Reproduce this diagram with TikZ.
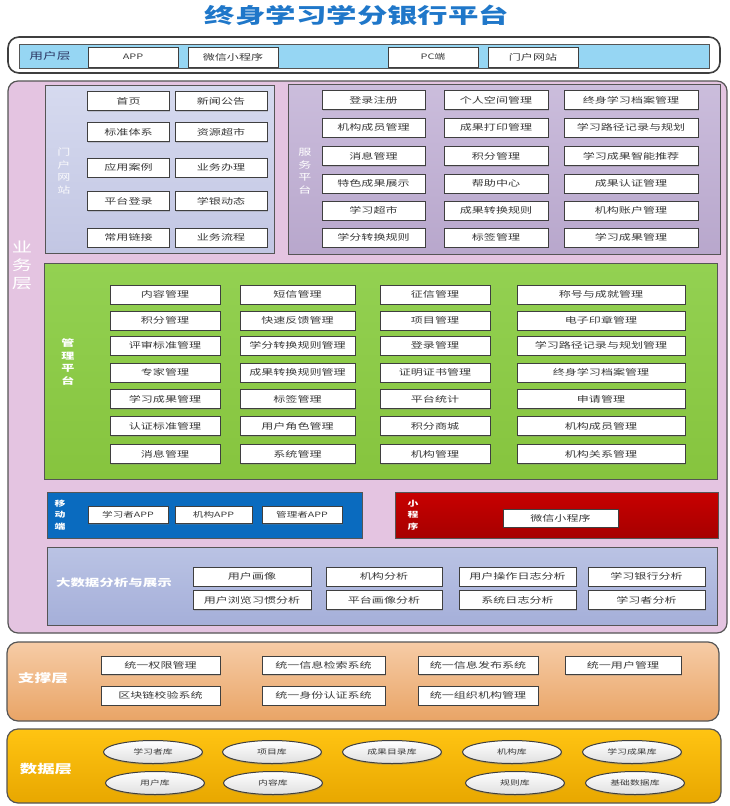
\documentclass[tikz,border=0pt]{standalone}
\usepackage{fontspec}
\newfontfamily\cjk{Noto Sans CJK SC}[FakeStretch=1.45]
\usetikzlibrary{shadows,shapes.geometric}
\definecolor{titleblue}{HTML}{1F77C9}
\definecolor{boxline}{HTML}{3F3F3F}
\definecolor{boxtext}{HTML}{3A3A3A}
\definecolor{panelline}{HTML}{555555}
\definecolor{userbar}{HTML}{96D6F3}
\definecolor{bizpink}{HTML}{E4C4E1}
\definecolor{portalA}{HTML}{D6DAEF}
\definecolor{portalB}{HTML}{C2C6E3}
\definecolor{servA}{HTML}{CBBDDC}
\definecolor{servB}{HTML}{B8A7CC}
\definecolor{mgmtA}{HTML}{93D152}
\definecolor{mgmtB}{HTML}{86C43E}
\definecolor{mobblue}{HTML}{0A6BBF}
\definecolor{miniA}{HTML}{C80000}
\definecolor{miniB}{HTML}{A60000}
\definecolor{bigA}{HTML}{BAC3E4}
\definecolor{bigB}{HTML}{A5AFD9}
\definecolor{supA}{HTML}{F6CCA6}
\definecolor{supB}{HTML}{E9A466}
\definecolor{dataA}{HTML}{FFC412}
\definecolor{dataB}{HTML}{E8A700}
\definecolor{userlbl}{HTML}{2E3A66}
\begin{document}
\begin{tikzpicture}[x=1pt,y=-1pt,
  box/.style={draw=boxline, line width=0.9pt, fill=white, inner sep=0pt, text=boxtext,
    font=\cjk\fontsize{8.3}{10}\selectfont, minimum height=19pt,
    drop shadow={shadow xshift=0.8pt, shadow yshift=-1.3pt, opacity=0.3}},
  panel/.style={draw=panelline, line width=1pt, inner sep=0pt},
  vlabel/.style={text=white, align=center, inner sep=0pt, font=\cjk\fontsize{9}{12.5}\selectfont},
  hlabel/.style={text=white, inner sep=0pt, font=\cjk\bfseries\fontsize{11}{13}\selectfont},
  dbell/.style={ellipse, draw=boxline, line width=1pt, top color=white, bottom color=gray!25,
    minimum width=99pt, minimum height=23pt, inner sep=0pt, text=boxtext,
    font=\cjk\fontsize{6.8}{8}\selectfont,
    drop shadow={shadow xshift=0.8pt, shadow yshift=-1.5pt, opacity=0.35}}
]
\useasboundingbox (0,0) rectangle (730,806);

% title
\node[text=titleblue, font=\cjk\bfseries\fontsize{21}{24}\selectfont] (title) at (357,15) {终身学习学分银行平台};

% user layer
\node[panel, draw=boxline, line width=1.6pt, fill=white, rounded corners=11pt,
  minimum width=712pt, minimum height=36pt] (userOuter) at (364,55) {};
\node[panel, line width=0.8pt, fill=userbar, minimum width=690pt, minimum height=24pt] (userBar) at (364,56) {};
\node[text=userlbl, font=\cjk\fontsize{9.5}{11}\selectfont, inner sep=0pt] (userLbl) at (50,56) {用户层};
\node[box, minimum width=90pt, minimum height=20pt, font=\cjk\fontsize{7.5}{9}\selectfont] (uApp) at (133,57) {APP};
\node[box, minimum width=90pt, minimum height=20pt] (uWx) at (233,57) {微信小程序};
\node[box, minimum width=90pt, minimum height=20pt, font=\cjk\fontsize{7.5}{9}\selectfont] (uPc) at (433,57) {PC端};
\node[box, minimum width=90pt, minimum height=20pt] (uWeb) at (533,57) {门户网站};

% business layer
\node[panel, line width=1.2pt, fill=bizpink, rounded corners=10pt,
  minimum width=719pt, minimum height=552pt] (biz) at (367.5,357) {};
\node[vlabel, font=\cjk\fontsize{14}{18}\selectfont] (bizLbl) at (22,265) {业\\务\\层};

% portal panel
\node[panel, top color=portalA, bottom color=portalB, minimum width=229pt, minimum height=168pt] (portal) at (159.5,169) {};
\node[vlabel, text=white!90!portalB] (portalLbl) at (64,171) {门\\户\\网\\站};
\foreach \y/\a/\b [count=\i] in {101/首页/新闻公告, 132/标准体系/资源超市, 167.5/应用案例/业务办理, 201/平台登录/学银动态, 237.5/常用链接/业务流程}{
  \node[box, minimum width=82pt] (pa\i) at (128.5,\y) {\a};
  \node[box, minimum width=92pt] (pb\i) at (221,\y) {\b};
}

% service panel
\node[panel, top color=servA, bottom color=servB, minimum width=432pt, minimum height=170pt] (serv) at (504,169) {};
\node[vlabel] (servLbl) at (305,171) {服\\务\\平\\台};
\foreach \y/\a/\b/\c [count=\i] in {100/登录注册/个人空间管理/终身学习档案管理,
  127.5/机构成员管理/成果打印管理/学习路径记录与规划,
  156/消息管理/积分管理/学习成果智能推荐,
  183.5/特色成果展示/帮助中心/成果认证管理,
  210.5/学习超市/成果转换规则/机构账户管理,
  237.5/学分转换规则/标签管理/学习成果管理}{
  \node[box, minimum width=103pt] (sa\i) at (373.5,\y) {\a};
  \node[box, minimum width=104pt] (sb\i) at (496,\y) {\b};
  \node[box, minimum width=134pt] (sc\i) at (631,\y) {\c};
}

% management panel
\node[panel, top color=mgmtA, bottom color=mgmtB, minimum width=673pt, minimum height=216pt] (mgmt) at (380.5,371) {};
\node[vlabel, font=\cjk\bfseries\fontsize{9}{12.5}\selectfont] (mgmtLbl) at (68,362) {管\\理\\平\\台};
\foreach \y/\a/\b/\c/\d [count=\i] in {294.5/内容管理/短信管理/征信管理/称号与成就管理,
  320.5/积分管理/快速反馈管理/项目管理/电子印章管理,
  345.5/评审标准管理/学分转换规则管理/登录管理/学习路径记录与规划管理,
  372.5/专家管理/成果转换规则管理/证明证书管理/终身学习档案管理,
  399/学习成果管理/标签管理/平台统计/申请管理,
  426/认证标准管理/用户角色管理/积分商城/机构成员管理,
  454/消息管理/系统管理/机构管理/机构关系管理}{
  \node[box, minimum width=110pt] (ma\i) at (165,\y) {\a};
  \node[box, minimum width=115pt] (mb\i) at (297.5,\y) {\b};
  \node[box, minimum width=110pt] (mc\i) at (435,\y) {\c};
  \node[box, minimum width=168pt] (md\i) at (601,\y) {\d};
}

% mobile panel
\node[panel, fill=mobblue, minimum width=315pt, minimum height=46pt] (mob) at (204.5,515) {};
\node[vlabel, font=\cjk\bfseries\fontsize{7.5}{11.5}\selectfont] (mobLbl) at (60,515) {移\\动\\端};
\node[box, minimum width=80pt, minimum height=17pt, font=\cjk\fontsize{7.3}{9}\selectfont] (mob1) at (128,515) {学习者APP};
\node[box, minimum width=77pt, minimum height=17pt, font=\cjk\fontsize{7.3}{9}\selectfont] (mob2) at (213.5,515) {机构APP};
\node[box, minimum width=80pt, minimum height=17pt, font=\cjk\fontsize{7.3}{9}\selectfont] (mob3) at (302,515) {管理者APP};

% mini program panel
\node[panel, top color=miniA, bottom color=miniB, minimum width=323pt, minimum height=46pt] (mini) at (556.5,515) {};
\node[vlabel, font=\cjk\bfseries\fontsize{7.5}{11.5}\selectfont] (miniLbl) at (413,515) {小\\程\\序};
\node[box, minimum width=115pt, minimum height=18pt] (mini1) at (560.5,518) {微信小程序};

% big data panel
\node[panel, top color=bigA, bottom color=bigB, minimum width=670pt, minimum height=78pt] (big) at (382,586) {};
\node[hlabel, font=\cjk\bfseries\fontsize{10}{12}\selectfont] (bigLbl) at (114,583) {大数据分析与展示};
\foreach \y/\a/\b/\c/\d [count=\i] in {576.5/用户画像/机构分析/用户操作日志分析/学习银行分析,
  600/用户浏览习惯分析/平台画像分析/系统日志分析/学习者分析}{
  \node[box, minimum width=118pt] (ba\i) at (252,\y) {\a};
  \node[box, minimum width=116pt] (bb\i) at (384,\y) {\b};
  \node[box, minimum width=117pt] (bc\i) at (517.5,\y) {\c};
  \node[box, minimum width=117pt] (bd\i) at (646.5,\y) {\d};
}

% support layer
\node[panel, line width=1.2pt, top color=supA, bottom color=supB, rounded corners=11pt,
  minimum width=712pt, minimum height=79pt] (sup) at (363,681.5) {};
\node[hlabel, font=\cjk\bfseries\fontsize{11.5}{13}\selectfont] (supLbl) at (43,678) {支撑层};
\node[box, minimum width=119pt, minimum height=18pt] (su1) at (160.5,665.5) {统一权限管理};
\node[box, minimum width=123pt, minimum height=18pt] (su2) at (323.5,665.5) {统一信息检索系统};
\node[box, minimum width=120pt, minimum height=18pt] (su3) at (478,665.5) {统一信息发布系统};
\node[box, minimum width=116pt, minimum height=18pt] (su4) at (623,665.5) {统一用户管理};
\node[box, minimum width=119pt, minimum height=19pt] (su5) at (160.5,695.5) {区块链校验系统};
\node[box, minimum width=123pt, minimum height=19pt] (su6) at (323.5,695.5) {统一身份认证系统};
\node[box, minimum width=120pt, minimum height=19pt] (su7) at (478,695.5) {统一组织机构管理};

% data layer
\node[panel, line width=1.2pt, top color=dataA, bottom color=dataB, rounded corners=11pt,
  minimum width=714pt, minimum height=74pt] (data) at (364,766) {};
\node[hlabel, font=\cjk\bfseries\fontsize{12}{14}\selectfont] (dataLbl) at (46,769) {数据层};
\node[dbell] (d1) at (153,752) {学习者库};
\node[dbell] (d2) at (272,752) {项目库};
\node[dbell] (d3) at (392,752) {成果目录库};
\node[dbell] (d4) at (512,752) {机构库};
\node[dbell] (d5) at (632,752) {学习成果库};
\node[dbell] (d6) at (155,783) {用户库};
\node[dbell] (d7) at (273,783) {内容库};
\node[dbell] (d8) at (515,783) {规则库};
\node[dbell] (d9) at (635,783) {基础数据库};
\end{tikzpicture}
\end{document}
